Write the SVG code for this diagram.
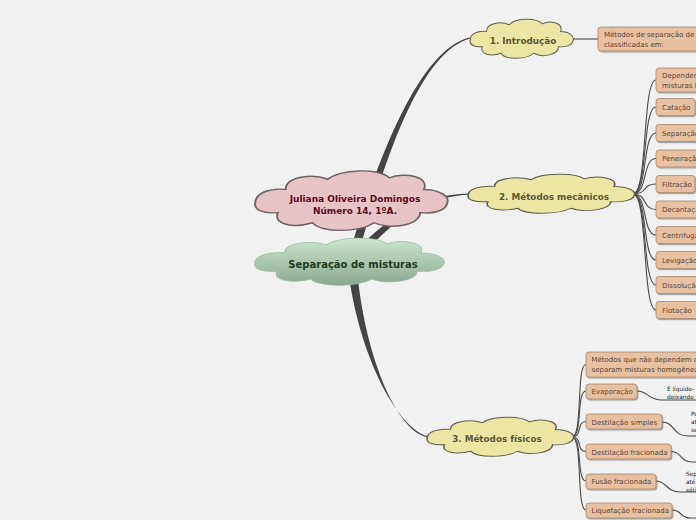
<svg xmlns="http://www.w3.org/2000/svg" width="696" height="520" viewBox="0 0 696 520">
<defs>
<linearGradient id="gGreen" x1="0" y1="0" x2="0" y2="1">
<stop offset="0" stop-color="#cbe6cf"/>
<stop offset="1" stop-color="#8aa891"/>
</linearGradient>
<filter id="sh" x="-10%" y="-20%" width="130%" height="160%">
<feDropShadow dx="1" dy="1.2" stdDeviation="0.7" flood-color="#000" flood-opacity="0.35"/>
</filter>
<path id="cloud" d="M -50,2 C -50,-6 -42,-9 -34,-8 C -34,-17 -20,-19 -12,-15 C -6,-22 14,-23 20,-16 C 28,-20 41,-17 38,-8 C 46,-8 52,-3 50,2 C 49,7 42,9 36,8 C 36,17 20,20 12,15 C 4,22 -16,22 -20,15 C -30,19 -41,16 -38,8 C -46,9 -50,6 -50,2 Z"/>
</defs>
<style>
.bg{fill:#f1f1f1}
.yc{fill:#ece6a4;stroke:#5e5e50;stroke-width:1}
.yt{font-family:"DejaVu Sans",Verdana,sans-serif;font-weight:bold;font-size:8.8px;fill:#5b5838;text-anchor:middle}
.box{fill:#e7c1a1;stroke:#a8876a;stroke-width:0.8}
.bt{font-family:"DejaVu Sans",Verdana,sans-serif;font-size:7px;fill:#5a4535}
.nt{font-family:"DejaVu Sans",Verdana,sans-serif;font-size:5.8px;fill:#222}
.thin{fill:none;stroke:#4a4a4a;stroke-width:1.1}
.main{fill:#454545}
</style>
<rect class="bg" x="0" y="0" width="696" height="520"/>

<g id="connectors">
<path class="main" d="M356.5,263.2 C383.3,160.9 420.4,51.5 470.2,38.6 L469.8,37.4 C419.7,48.5 376.7,159.1 347.5,260.8 Z"/>
<path class="main" d="M355.3,264.8 C392.3,216.9 430,196.5 470,194.6 L470,193.4 C430,193.5 387.7,213.1 348.6,259.3 Z"/>
<path class="main" d="M356.5,261.7 C361.5,339.7 391.6,429.5 427.9,437.5 L428.1,436.5 C392.4,426.5 354.5,340.3 347.5,262.3 Z"/>
<path class="thin" stroke="#666" d="M572,39 L598,39"/>
<g class="thin">
<path d="M633,194 C648,194 642,80 656,80"/>
<path d="M633,194 C648,194 642,107 656,107"/>
<path d="M633,194 C648,194 642,133 656,133"/>
<path d="M633,194 C648,194 642,158.5 656,158.5"/>
<path d="M633,194 C648,194 642,184 656,184"/>
<path d="M633,194 C648,194 642,209.5 656,209.5"/>
<path d="M633,194 C648,194 642,235 656,235"/>
<path d="M633,194 C648,194 642,260 656,260"/>
<path d="M633,194 C648,194 642,285 656,285"/>
<path d="M633,194 C648,194 642,310 656,310"/>
<path d="M572,437 C583,437 576,364.5 586,364.5"/>
<path d="M572,437 C583,437 576,391 586,391"/>
<path d="M572,437 C583,437 576,421.5 586,421.5"/>
<path d="M572,437 C583,437 576,451.5 586,451.5"/>
<path d="M572,437 C583,437 576,481 586,481"/>
<path d="M572,437 C583,437 576,510 586,510"/>
<path d="M637,391 C648,391 648,400 662,400 L696,400"/>
<path d="M662,422 C675,422 672,436 688,436 L696,436"/>
<path d="M671,451.5 C682,451.5 680,462 692,462 L696,462"/>
<path d="M656,481 C667,481 666,492 680,492 L696,492"/>
<path d="M672,510 C682,510 680,518 690,518 L696,518"/>
</g>
</g>

<g id="n-juliana">
<use href="#cloud" transform="translate(351,201) scale(1.92,1.45)" fill="#e8c4c8" stroke="#6e6262" stroke-width="1" vector-effect="non-scaling-stroke"/>
<text x="355" y="201.5" font-family="DejaVu Sans,Verdana,sans-serif" font-weight="bold" font-size="9px" fill="#5c0a1e" text-anchor="middle">Juliana Oliveira Domingos</text>
<text x="355" y="213.5" font-family="DejaVu Sans,Verdana,sans-serif" font-weight="bold" font-size="9px" fill="#5c0a1e" text-anchor="middle">Número 14, 1ºA.</text>
</g>

<g id="n-central">
<use href="#cloud" transform="translate(349,262) scale(1.89,1.15)" fill="url(#gGreen)" stroke="#a3bda8" stroke-width="0.6" vector-effect="non-scaling-stroke"/>
<text x="353" y="267.5" font-family="DejaVu Sans,Verdana,sans-serif" font-weight="bold" font-size="10px" fill="#1f3d24" text-anchor="middle">Separação de misturas</text>
</g>

<g id="n-intro">
<use href="#cloud" class="yc" transform="translate(521.5,39) scale(1.03,0.95)" vector-effect="non-scaling-stroke"/>
<text class="yt" x="523" y="44">1. Introdução</text>
</g>

<g id="n-mec">
<use href="#cloud" class="yc" transform="translate(551,194) scale(1.66,0.95)" vector-effect="non-scaling-stroke"/>
<text class="yt" x="554" y="200">2. Métodos mecânicos</text>
</g>

<g id="n-fis">
<use href="#cloud" class="yc" transform="translate(500,437) scale(1.46,0.95)" vector-effect="non-scaling-stroke"/>
<text class="yt" x="497" y="442">3. Métodos físicos</text>
</g>

<g id="n-intro-1">
<rect class="box" filter="url(#sh)" x="598" y="27" width="120" height="24" rx="3"/>
<text class="bt" x="604" y="37">Métodos de separação de</text>
<text class="bt" x="604" y="46.5">classificadas em:</text>
</g>

<g id="n-mec-1"><rect class="box" filter="url(#sh)" x="656" y="68" width="60" height="24" rx="3"/><text class="bt" x="662" y="78">Dependem</text><text class="bt" x="662" y="87.5">misturas heterogêneas</text></g>
<g id="n-mec-2"><rect class="box" filter="url(#sh)" x="656" y="98.5" width="39" height="17" rx="3"/><text class="bt" x="662" y="109.5">Catação</text></g>
<g id="n-mec-3"><rect class="box" filter="url(#sh)" x="656" y="124.5" width="60" height="17" rx="3"/><text class="bt" x="662" y="135.5">Separação magnética</text></g>
<g id="n-mec-4"><rect class="box" filter="url(#sh)" x="656" y="150" width="60" height="17" rx="3"/><text class="bt" x="662" y="161">Peneiração</text></g>
<g id="n-mec-5"><rect class="box" filter="url(#sh)" x="656" y="175.5" width="39" height="17" rx="3"/><text class="bt" x="662" y="186.5">Filtração</text></g>
<g id="n-mec-6"><rect class="box" filter="url(#sh)" x="656" y="201" width="60" height="17" rx="3"/><text class="bt" x="662" y="212">Decantação</text></g>
<g id="n-mec-7"><rect class="box" filter="url(#sh)" x="656" y="226.5" width="60" height="17" rx="3"/><text class="bt" x="662" y="237.5">Centrifugação</text></g>
<g id="n-mec-8"><rect class="box" filter="url(#sh)" x="656" y="251.5" width="60" height="17" rx="3"/><text class="bt" x="662" y="262.5">Levigação</text></g>
<g id="n-mec-9"><rect class="box" filter="url(#sh)" x="656" y="276.5" width="60" height="17" rx="3"/><text class="bt" x="662" y="287.5">Dissolução fracionada</text></g>
<g id="n-mec-10"><rect class="box" filter="url(#sh)" x="656" y="301.5" width="60" height="17" rx="3"/><text class="bt" x="662" y="312.5">Flotação</text></g>

<g id="n-fis-1"><rect class="box" filter="url(#sh)" x="586" y="352" width="130" height="25" rx="3"/><text class="bt" x="591.5" y="362">Métodos que não dependem de</text><text class="bt" x="591.5" y="372">separam misturas homogêneas</text></g>
<g id="n-fis-2"><rect class="box" filter="url(#sh)" x="586" y="384" width="51" height="15" rx="3"/><text class="bt" x="591.5" y="394">Evaporação</text></g>
<g id="n-fis-3"><rect class="box" filter="url(#sh)" x="586" y="414" width="76" height="15" rx="3"/><text class="bt" x="591.5" y="424.5">Destilação simples</text></g>
<g id="n-fis-4"><rect class="box" filter="url(#sh)" x="586" y="444" width="85" height="15" rx="3"/><text class="bt" x="591.5" y="454.5">Destilação fracionada</text></g>
<g id="n-fis-5"><rect class="box" filter="url(#sh)" x="586" y="474" width="70" height="15" rx="3"/><text class="bt" x="591.5" y="484">Fusão fracionada</text></g>
<g id="n-fis-6"><rect class="box" filter="url(#sh)" x="586" y="503" width="86" height="15" rx="3"/><text class="bt" x="591.5" y="513">Liquefação fracionada</text></g>

<g id="notes">
<text class="nt" x="667" y="391">É líquido-</text>
<text class="nt" x="667" y="398.5">deixando</text>
<text class="nt" x="691" y="416">Por</text>
<text class="nt" x="691" y="424">até</text>
<text class="nt" x="691" y="432">se</text>
<text class="nt" x="686" y="476">Separa</text>
<text class="nt" x="686" y="484">até</text>
<text class="nt" x="686" y="492">sólido</text>
</g>
</svg>
